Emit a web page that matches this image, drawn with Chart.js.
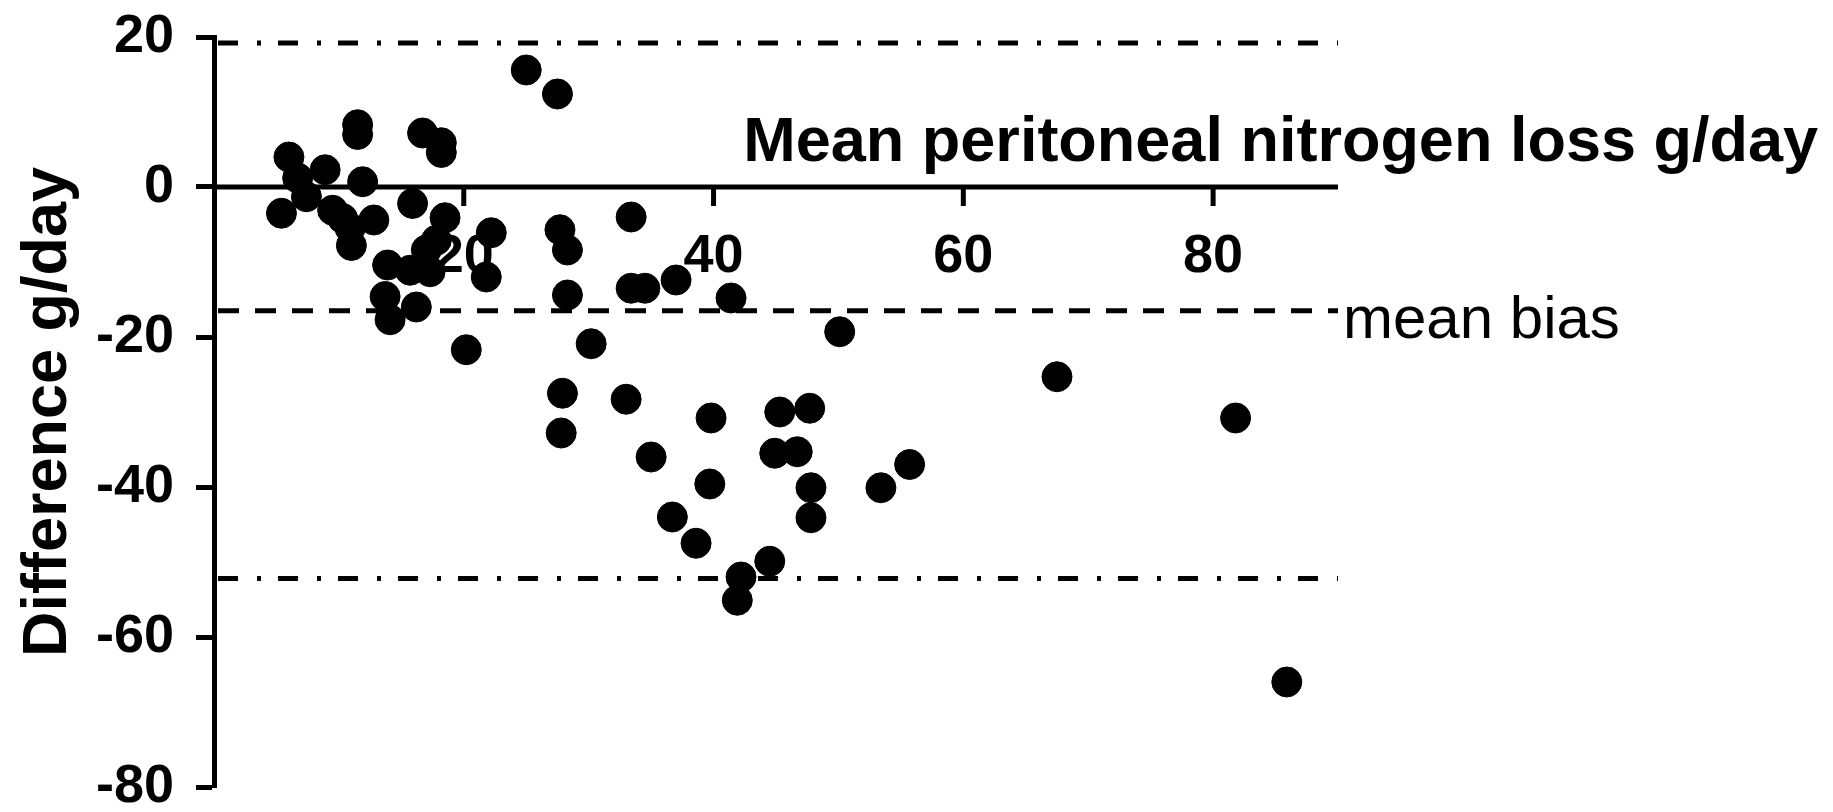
<!DOCTYPE html>
<html>
<head>
<meta charset="utf-8">
<script src="https://cdn.jsdelivr.net/npm/chart.js@4"></script>
<style>
  html, body { margin: 0; padding: 0; background: #fff; }
  canvas { display: block; }
</style>
</head>
<body>
<canvas id="blandAltman" width="1833" height="812"></canvas>
<script>
// mean peritoneal nitrogen loss (g/day) and difference (g/day)
const meanLoss = [
  6.0, 8.9, 5.4, 6.7, 7.4, 9.5, 10.3, 10.9, 11.0, 11.5, 11.5, 11.9, 12.8, 15.9,
  16.7, 18.2, 18.2, 18.5, 13.9, 15.7, 17.0, 17.8, 17.3, 13.7, 14.1, 16.2,
  22.2, 21.8, 20.2,
  25.0, 27.5, 33.4, 27.7, 28.3, 28.3, 33.4, 34.5, 37.0, 41.4, 50.1, 30.2,
  27.9, 33.0, 27.8, 39.8, 45.3, 47.7, 35.0, 44.9, 46.7, 55.7, 53.4, 39.7,
  47.8, 47.8, 36.7, 38.6, 44.5, 42.2, 41.9, 67.5, 81.8, 85.9
];
const difference = [
  4.0, 2.3, -3.5, 1.2, -1.3, -3.1, -4.2, -5.5, -7.8, 8.3, 7.0, 0.7, -4.4, -2.2,
  7.2, 5.9, 4.6, -4.1, -10.4, -11.1, -8.4, -7.1, -11.3, -14.6, -17.7, -16.0,
  -6.1, -12.0, -21.7,
  15.6, 12.4, -4.0, -5.7, -8.4, -14.4, -13.5, -13.5, -12.4, -14.8, -19.3, -20.9,
  -27.5, -28.3, -32.8, -30.8, -30.0, -29.5, -36.0, -35.5, -35.3, -37.0, -40.1, -39.6,
  -40.1, -44.1, -44.0, -47.5, -49.9, -52.0, -55.1, -25.3, -30.8, -66.0
];

const xTicks = [20, 40, 60, 80];
const yTicks = [-80, -60, -40, -20, 0, 20];
const xRange = [0, 90];
const upperLimit = 19.2;
const meanBias = -16.5;
const lowerLimit = -52.2;

const xTitle = 'Mean peritoneal nitrogen loss g/day';
const yTitle = 'Difference g/day';
const biasLabel = 'mean bias';

const FONT = '"Liberation Sans", Arial, Helvetica, sans-serif';

// x axis crosses at y = 0, plus the Bland-Altman reference lines
const blandAltmanAxes = {
  id: 'blandAltmanAxes',
  beforeDatasetsDraw(chart) {
    const { ctx, scales: { x, y } } = chart;
    const left = x.getPixelForValue(xRange[0]);
    const right = x.getPixelForValue(xRange[1]);
    const y0 = y.getPixelForValue(0);

    ctx.save();
    ctx.strokeStyle = '#000';
    ctx.fillStyle = '#000';
    ctx.lineCap = 'butt';

    const hLine = (val, dash, width) => {
      const py = y.getPixelForValue(val);
      ctx.lineWidth = width;
      ctx.setLineDash(dash);
      ctx.beginPath();
      ctx.moveTo(left + 4, py);
      ctx.lineTo(right, py);
      ctx.stroke();
    };
    hLine(upperLimit, [20, 19, 4, 17], 5);
    hLine(meanBias, [21, 16], 5);
    hLine(lowerLimit, [20, 19, 4, 17], 5);
    ctx.setLineDash([]);

    // x axis line and ticks
    ctx.lineWidth = 5;
    ctx.beginPath();
    ctx.moveTo(left, y0);
    ctx.lineTo(right, y0);
    ctx.stroke();
    xTicks.forEach(t => {
      const px = x.getPixelForValue(t);
      ctx.beginPath();
      ctx.moveTo(px, y0);
      ctx.lineTo(px, y0 + 19);
      ctx.stroke();
    });

    ctx.font = 'bold 54px ' + FONT;
    ctx.textAlign = 'center';
    ctx.textBaseline = 'middle';
    xTicks.forEach(t => ctx.fillText(String(t), x.getPixelForValue(t), y0 + 70));

    ctx.font = 'bold 63px ' + FONT;
    ctx.textAlign = 'right';
    ctx.textBaseline = 'alphabetic';
    ctx.fillText(xTitle, 1818, 161);

    ctx.font = '60px ' + FONT;
    ctx.textAlign = 'left';
    ctx.textBaseline = 'middle';
    ctx.fillText(biasLabel, right + 5, y.getPixelForValue(meanBias) + 11);
    ctx.restore();
  }
};

new Chart(document.getElementById('blandAltman').getContext('2d'), {
  type: 'scatter',
  data: {
    datasets: [{
      label: 'Difference',
      data: meanLoss.map((m, i) => ({ x: m, y: difference[i] })),
      backgroundColor: '#000',
      borderColor: '#000',
      borderWidth: 1,
      pointRadius: 15,
      pointHoverRadius: 15,
      clip: false
    }]
  },
  options: {
    responsive: false,
    animation: false,
    devicePixelRatio: 1,
    layout: { padding: { left: 0, top: 37, right: 495, bottom: 25 } },
    plugins: { legend: { display: false }, tooltip: { enabled: false } },
    scales: {
      x: { type: 'linear', display: false, min: xRange[0], max: xRange[1] },
      y: {
        type: 'linear',
        position: 'left',
        min: yTicks[0],
        max: yTicks[yTicks.length - 1],
        afterBuildTicks: s => { s.ticks = yTicks.map(v => ({ value: v })); },
        afterFit: s => { s.width = 214; },
        border: { display: true, color: '#000', width: 5 },
        grid: { drawOnChartArea: false, drawTicks: true, tickLength: 18, tickWidth: 5, tickColor: '#000' },
        ticks: {
          color: '#000',
          padding: 22,
          font: { family: FONT, size: 54, weight: 'bold', lineHeight: 0.05 }
        },
        title: {
          display: true,
          text: yTitle,
          color: '#000',
          padding: { top: 11, bottom: 0 },
          font: { family: FONT, size: 63, weight: 'bold', lineHeight: 1.2 }
        }
      }
    }
  },
  plugins: [blandAltmanAxes]
});
</script>
</body>
</html>
